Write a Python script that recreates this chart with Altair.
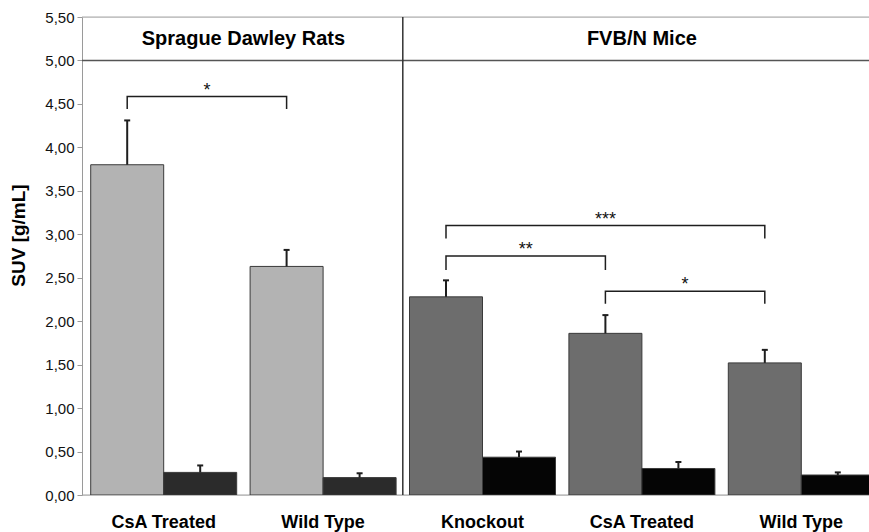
import altair as alt
import pandas as pd

# ---------------- data ----------------
groups = ["Rats|CsA Treated", "Rats|Wild Type", "Mice|Knockout", "Mice|CsA Treated", "Mice|Wild Type"]
species = ["Rats", "Rats", "Mice", "Mice", "Mice"]

gray_vals = [3.80, 2.63, 2.28, 1.86, 1.52]
gray_err = [0.51, 0.19, 0.19, 0.21, 0.15]
dark_vals = [0.26, 0.20, 0.435, 0.305, 0.23]
dark_err = [0.08, 0.05, 0.065, 0.075, 0.03]

# significance brackets (between the gray bars)
br_from = [0, 2, 2, 3]
br_to = [1, 4, 3, 4]
br_label = ["*", "***", "**", "*"]
br_top = [4.585, 3.10, 2.75, 2.345]
br_low = [4.44, 2.95, 2.59, 2.20]

panel_titles = ["Sprague Dawley Rats", "FVB/N Mice"]
panel_groups = [(0, 1), (2, 4)]

y_ticks = [0, 0.5, 1, 1.5, 2, 2.5, 3, 3.5, 4, 4.5, 5, 5.5]

# ---------------- tables ----------------
rows = []
for g, s, v, e in zip(groups, species, gray_vals, gray_err):
    rows.append(dict(grp=g, series="gray", key=s + "-gray", value=v, top=v + e))
for g, s, v, e in zip(groups, species, dark_vals, dark_err):
    rows.append(dict(grp=g, series="dark", key=s + "-dark", value=v, top=v + e))
df = pd.DataFrame(rows)

RANGE = 801
PI = 0.0841
PO = 0.0546
STEP = RANGE / (len(groups) - PI + 2 * PO)
GAP = PI * STEP
HALF_STEP = 0.5 / (1 - PI)  # half a step, in bandwidth units

br_rows = []
star_rows = []
for i, (a, b, lab, t, lo) in enumerate(zip(br_from, br_to, br_label, br_top, br_low)):
    for k, (gi, yy) in enumerate([(a, lo), (a, t), (b, t), (b, lo)]):
        br_rows.append(dict(bid=i, k=k, grp=groups[gi], y=yy))
    mode = "center" if (a + b) % 2 == 0 else "half"
    star_rows.append(dict(grp=groups[(a + b) // 2], label=lab, y=t, mode=mode))
br_df = pd.DataFrame(br_rows)
star_df = pd.DataFrame(star_rows)

title_rows = []
for name, (a, b) in zip(panel_titles, panel_groups):
    mode = "center" if (a + b) % 2 == 0 else "half"
    title_rows.append(dict(grp=groups[(a + b) // 2], label=name, mode=mode, ty=5.25))
title_df = pd.DataFrame(title_rows)

# ---------------- scales & axes ----------------
xscale = alt.Scale(domain=groups, range=[0, RANGE], paddingInner=PI, paddingOuter=PO)
yscale = alt.Scale(domain=[0, 5.5], nice=False, zero=True)

FONT = "Liberation Sans"
LINE = "#1e1e1e"

x_axis = alt.Axis(
    title=None, labelExpr="split(datum.label, '|')[1]", domain=False, ticks=False,
    labelFont=FONT, labelFontSize=18, labelFontWeight="bold", labelColor="#000",
    labelPadding=18, labelAngle=0,
)
y_axis = alt.Axis(
    values=y_ticks, labelExpr="replace(format(datum.value, '.2f'), '.', ',')",
    title="SUV [g/mL]", titleFont=FONT, titleFontSize=19, titleFontWeight="bold",
    titleColor="#000", titleX=-64, titleY=218, titleAlign="center", titleBaseline="middle",
    titleAngle=270,
    domainColor="#9a9a9a", tickColor="#9a9a9a", tickSize=5, labelFont=FONT,
    labelFontSize=15, labelColor="#111", labelPadding=3, grid=False,
)


def X(bp=None):
    if bp is None:
        return alt.X("grp:N", scale=xscale, sort=groups, axis=x_axis, title=None)
    return alt.X("grp:N", scale=xscale, sort=groups, axis=x_axis, title=None, bandPosition=bp)


def Y(field):
    return alt.Y(field, scale=yscale, axis=y_axis, title="SUV [g/mL]")


bars = alt.Chart(df).mark_bar(stroke="#3a3a3a", strokeWidth=1, clip=True).encode(
    x=X(),
    xOffset=alt.XOffset("series:N", sort=["gray", "dark"], scale=alt.Scale(paddingInner=0, paddingOuter=0)),
    y=Y("value:Q"),
    color=alt.Color(
        "key:N",
        scale=alt.Scale(
            domain=["Rats-gray", "Rats-dark", "Mice-gray", "Mice-dark"],
            range=["#b3b3b3", "#2b2b2b", "#6d6d6d", "#050505"],
        ),
        legend=None,
    ),
)

layers = []
for series, bp in [("gray", 0.25), ("dark", 0.75)]:
    base = alt.Chart(df).transform_filter(alt.datum.series == series)
    layers.append(base.mark_rule(color=LINE, strokeWidth=2, clip=True).encode(
        x=X(bp), y=Y("value:Q"), y2="top:Q"))
    layers.append(base.mark_point(shape="M-1,0L1,0", size=36, strokeWidth=2, filled=False,
                                  color=LINE, opacity=1, clip=True).encode(
        x=X(bp), y=Y("top:Q")))

brackets = alt.Chart(br_df).mark_line(color=LINE, strokeWidth=1.5).encode(
    x=X(0.25), y=Y("y:Q"), detail="bid:N", order="k:Q")

stars = []
for mode, bp in [("center", 0.25), ("half", 0.25 + HALF_STEP)]:
    stars.append(alt.Chart(star_df).transform_filter(alt.datum.mode == mode).mark_text(
        font=FONT, fontSize=18, color="#111", baseline="alphabetic", dy=-1).encode(
        x=X(bp), y=Y("y:Q"), text="label:N"))

titles = []
for mode, bp, dx in [("center", 0.5, 0), ("half", 1.0, GAP / 2)]:
    titles.append(alt.Chart(title_df).transform_filter(alt.datum.mode == mode).mark_text(
        font=FONT, fontSize=20, fontWeight="bold", color="#000", baseline="middle", dx=dx).encode(
        x=X(bp), y=Y("ty:Q"), text="label:N"))

hline5 = alt.Chart(pd.DataFrame({"y": [5.0]})).mark_rule(color="#555", strokeWidth=1.5).encode(y=Y("y:Q"))
hline_top = alt.Chart(pd.DataFrame({"y": [5.5]})).mark_rule(color="#aaa", strokeWidth=1.2).encode(y=Y("y:Q"))
hline_0 = alt.Chart(pd.DataFrame({"y": [0.0]})).mark_rule(color="#a0a0a0", strokeWidth=1.2).encode(y=Y("y:Q"))

# divider between the two panels: half a gap before the first mouse group
divider = alt.Chart(pd.DataFrame({"grp": [groups[2]], "y0": [0.0], "y1": [5.5]})).mark_rule(
    color="#333", strokeWidth=1.5).encode(
    x=X(), xOffset=alt.value(-GAP / 2), y=Y("y0:Q"), y2="y1:Q")

chart = alt.layer(
    hline_top, hline5, hline_0, bars, *layers, brackets, *stars, *titles, divider
).properties(
    width=787, height=478,
    autosize=alt.AutoSizeParams(type="none"),
    padding={"left": 82, "top": 17, "right": 0, "bottom": 37},
).configure_view(stroke=None).configure(font=FONT, background="white")

chart.save("out.html", embed_options={"renderer": "svg", "actions": False})
